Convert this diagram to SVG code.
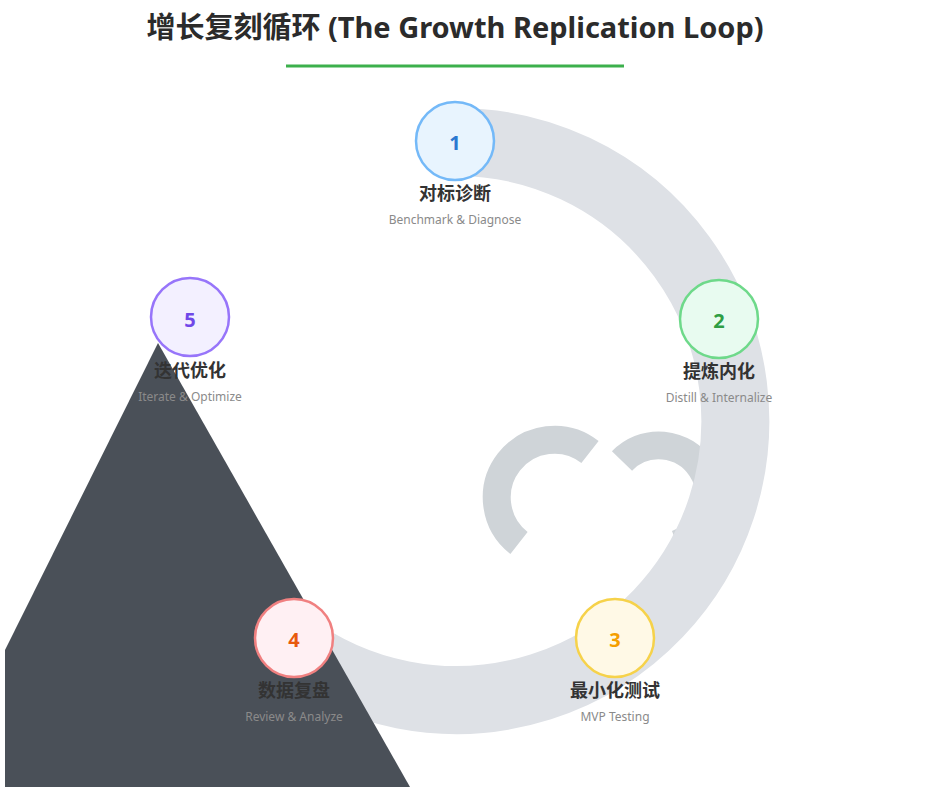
<svg xmlns="http://www.w3.org/2000/svg" width="925" height="787" viewBox="0 0 925 787">
<style>
.t{font-family:"Noto Sans","Noto Sans CJK SC",sans-serif;font-weight:bold;font-size:18px;fill:#333;text-anchor:middle}
.s{font-family:"Noto Sans",sans-serif;font-size:12px;fill:#8a8a8a;text-anchor:middle}
.n{font-family:"Noto Sans",sans-serif;font-weight:bold;font-size:20px;text-anchor:middle}
circle{stroke-width:2.5}
</style>
<rect width="925" height="787" fill="#fff"/>
<text x="455" y="38" style="font-family:'Noto Sans','Noto Sans CJK SC',sans-serif;font-weight:bold;font-size:29px;fill:#2b2b2b" text-anchor="middle">增长复刻循环 (The Growth Replication Loop)</text>
<line x1="286" y1="66" x2="624" y2="66" stroke="#3cb04c" stroke-width="3"/>
<g id="connectors" fill="none">
<path d="M590 452 A51 51 0 1 0 519 543" stroke="#cfd4d8" stroke-width="28"/>
<path d="M622 461 A51 51 0 1 1 677 544" stroke="#cfd4d8" stroke-width="28"/>
<path d="M455 142 A279 279 0 1 1 290 645" stroke="#dee1e6" stroke-width="68"/>
</g>
<polygon points="158,343 410,787 5,787 5,650" fill="#4a5058"/>
<g id="n1"><circle cx="455" cy="141" r="39" fill="#e8f4fe" stroke="#74b9f8"/><text class="n" x="455" y="150" fill="#2a78d0">1</text><text class="t" x="455" y="200">对标诊断</text><text class="s" x="455" y="224">Benchmark &amp; Diagnose</text></g>
<g id="n2"><circle cx="719" cy="319" r="39" fill="#e8fbf0" stroke="#6ed98a"/><text class="n" x="719" y="328" fill="#2f9e44">2</text><text class="t" x="719" y="378">提炼内化</text><text class="s" x="719" y="402">Distill &amp; Internalize</text></g>
<g id="n3"><circle cx="615" cy="638" r="39" fill="#fff9e6" stroke="#f6d24a"/><text class="n" x="615" y="647" fill="#f59f00">3</text><text class="t" x="615" y="697">最小化测试</text><text class="s" x="615" y="721">MVP Testing</text></g>
<g id="n4"><circle cx="294" cy="638" r="39" fill="#fff0f3" stroke="#f08080"/><text class="n" x="294" y="647" fill="#e8590c">4</text><text class="t" x="294" y="697">数据复盘</text><text class="s" x="294" y="721">Review &amp; Analyze</text></g>
<g id="n5"><circle cx="190" cy="317" r="39" fill="#f3f0ff" stroke="#9775fa"/><text class="n" x="190" y="327" fill="#7048e8">5</text><text class="t" x="190" y="377">迭代优化</text><text class="s" x="190" y="401">Iterate &amp; Optimize</text></g>
</svg>
